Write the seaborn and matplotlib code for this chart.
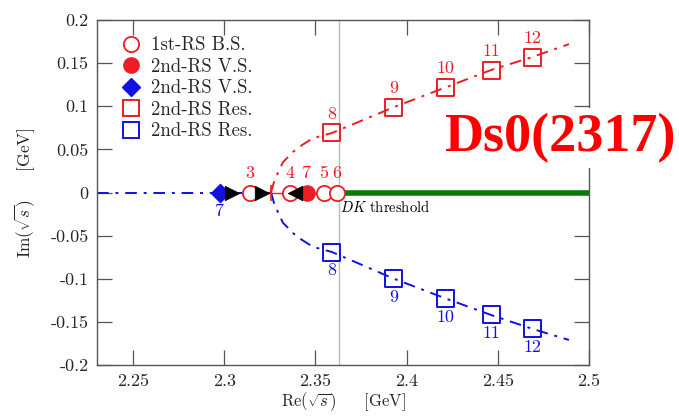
import matplotlib
matplotlib.use("Agg")
import matplotlib.pyplot as plt
from matplotlib.lines import Line2D
import seaborn as sns
import numpy as np

# ---------------- data ----------------
threshold = 2.3629
junction_x = 2.3257

# 1st-RS bound states (open red circles) with labels
bs_x = [2.3141, 2.3361, 2.3547, 2.3618]
bs_lab = ["3", "4", "5", "6"]
# 2nd-RS virtual state (filled red circle)
vs_red_x = [2.3454]
vs_red_lab = ["7"]
# 2nd-RS virtual state (blue diamond)
vs_blue_x = [2.2977]
vs_blue_lab = ["7"]
# arrows on the real axis
arrow_r_x = [2.3043, 2.3207]
arrow_l_x = [2.3388]

# 2nd-RS resonances
res_x = [2.3591, 2.3931, 2.4216, 2.4463, 2.4688]
res_up_y = [0.069, 0.099, 0.122, 0.142, 0.157]
res_dn_y = [-0.069, -0.100, -0.123, -0.142, -0.158]
res_lab = ["8", "9", "10", "11", "12"]

# trajectory curves
curve_x = [2.3257, 2.3273, 2.3289, 2.3322, 2.3377, 2.3427, 2.3487, 2.3591,
           2.3931, 2.4216, 2.4463, 2.4688, 2.4890]
curve_up_y = [0.0, 0.012, 0.020, 0.035, 0.047, 0.055, 0.063, 0.069,
              0.099, 0.122, 0.142, 0.157, 0.172]
curve_dn_y = [0.0, -0.012, -0.020, -0.035, -0.047, -0.055, -0.063, -0.069,
              -0.100, -0.123, -0.142, -0.158, -0.171]
blue_axis_x = [2.2303, 2.3257]

xticks = [2.25, 2.3, 2.35, 2.4, 2.45, 2.5]
xtick_labels = ["2.25", "2.3", "2.35", "2.4", "2.45", "2.5"]
yticks = [0.2, 0.15, 0.1, 0.05, 0.0, -0.05, -0.1, -0.15, -0.2]
ytick_labels = ["0.2", "0.15", "0.1", "0.05", "0", "-0.05", "-0.1", "-0.15", "-0.2"]

legend_labels = ["1st-RS B.S.", "2nd-RS V.S.", "2nd-RS V.S.", "2nd-RS Res.", "2nd-RS Res."]

# ---------------- style ----------------
sns.set_style("ticks")
plt.rcParams["font.family"] = ["cmr10", "DejaVu Serif"]
plt.rcParams["mathtext.fontset"] = "cm"
plt.rcParams["axes.unicode_minus"] = False

RED = "#ee1c24"
BLUE = "#1010e0"
GREEN = "#0a7a0a"
EDGE = "#555555"
dashdot = (0, (6, 3.5, 1.5, 3.5))

fig = plt.figure(figsize=(6.79, 4.2), dpi=100)
ax = fig.add_axes([97 / 679, 55 / 420, 492 / 679, 345 / 420])

# threshold line and green cut
ax.axvline(threshold, color="#bbbbbb", lw=1.0, zorder=1)
sns.lineplot(x=[threshold, 2.5], y=[0, 0], ax=ax, color=GREEN, lw=4.0,
             sort=False, estimator=None, zorder=2)

# trajectories
sns.lineplot(x=blue_axis_x, y=[0, 0], ax=ax, color=BLUE, lw=1.4,
             linestyle=dashdot, sort=False, estimator=None, zorder=2)
sns.lineplot(x=curve_x, y=curve_up_y, ax=ax, color=RED, lw=1.4,
             linestyle=dashdot, sort=False, estimator=None, zorder=2)
sns.lineplot(x=curve_x, y=curve_dn_y, ax=ax, color=BLUE, lw=1.4,
             linestyle=dashdot, sort=False, estimator=None, zorder=2)
sns.lineplot(x=[bs_x[0], bs_x[-1]], y=[0, 0], ax=ax, color=RED, lw=1.0,
             sort=False, estimator=None, zorder=2)
ax.plot([junction_x], [0], marker="|", ms=12, mew=1.2, color=RED, zorder=3)

# markers
sns.scatterplot(x=bs_x, y=[0] * len(bs_x), ax=ax, marker="o", s=120,
                facecolors="white", edgecolors=RED, linewidth=1.3, zorder=4)
sns.scatterplot(x=vs_red_x, y=[0], ax=ax, marker="o", s=120,
                color=RED, edgecolors=RED, linewidth=1.0, zorder=5)
sns.scatterplot(x=vs_blue_x, y=[0], ax=ax, marker="D", s=85,
                color=BLUE, edgecolors=BLUE, linewidth=1.0, zorder=5)
sns.scatterplot(x=arrow_r_x, y=[0] * len(arrow_r_x), ax=ax, marker=">", s=110,
                color="black", edgecolors="black", linewidth=0.5, zorder=6)
sns.scatterplot(x=arrow_l_x, y=[0], ax=ax, marker="<", s=110,
                color="black", edgecolors="black", linewidth=0.5, zorder=6)
sns.scatterplot(x=res_x, y=res_up_y, ax=ax, marker="s", s=150,
                facecolors="none", edgecolors=RED, linewidth=1.4, zorder=4)
sns.scatterplot(x=res_x, y=res_dn_y, ax=ax, marker="s", s=150,
                facecolors="none", edgecolors=BLUE, linewidth=1.4, zorder=4)

# point labels
lab_fs = 13
for x, t in zip(bs_x, bs_lab):
    ax.annotate(t, (x, 0), xytext=(0, 8), textcoords="offset points",
                ha="center", va="bottom", color=RED, fontsize=lab_fs)
for x, t in zip(vs_red_x, vs_red_lab):
    ax.annotate(t, (x, 0), xytext=(0, 8), textcoords="offset points",
                ha="center", va="bottom", color=RED, fontsize=lab_fs)
for x, t in zip(vs_blue_x, vs_blue_lab):
    ax.annotate(t, (x, 0), xytext=(0, -8), textcoords="offset points",
                ha="center", va="top", color=BLUE, fontsize=lab_fs)
for x, y, t in zip(res_x, res_up_y, res_lab):
    ax.annotate(t, (x, y), xytext=(0, 8), textcoords="offset points",
                ha="center", va="bottom", color=RED, fontsize=lab_fs)
for x, y, t in zip(res_x, res_dn_y, res_lab):
    ax.annotate(t, (x, y), xytext=(0, -8), textcoords="offset points",
                ha="center", va="top", color=BLUE, fontsize=lab_fs)

ax.text(threshold + 0.0008, -0.007, r"$DK$ threshold", ha="left", va="top",
        fontsize=10.5, color="black")

# axes
ax.set_xlim(2.2303, 2.5)
ax.set_ylim(-0.2, 0.2)
ax.set_xticks(xticks)
ax.set_xticklabels(xtick_labels)
ax.set_yticks(yticks)
ax.set_yticklabels(ytick_labels)
ax.tick_params(direction="in", length=11, width=0.9, color=EDGE,
               top=True, right=True, labelsize=13, pad=6)
for sp in ax.spines.values():
    sp.set_visible(True)
    sp.set_color(EDGE)
    sp.set_linewidth(1.0)

ax.set_xlabel(r"Re$(\sqrt{s})$     [GeV]", fontsize=12, labelpad=1)
ax.set_ylabel(r"Im$(\sqrt{s})$     [GeV]", fontsize=12.5, labelpad=10)

handles = [
    Line2D([], [], ls="none", marker="o", ms=11, mfc="white", mec=RED, mew=1.3),
    Line2D([], [], ls="none", marker="o", ms=11, mfc=RED, mec=RED),
    Line2D([], [], ls="none", marker="D", ms=9, mfc=BLUE, mec=BLUE),
    Line2D([], [], ls="none", marker="s", ms=12, mfc="none", mec=RED, mew=1.4),
    Line2D([], [], ls="none", marker="s", ms=12, mfc="none", mec=BLUE, mew=1.4),
]
ax.legend(handles, legend_labels, loc="upper left", frameon=False,
          fontsize=13.5, handlelength=1.2, handletextpad=0.45,
          labelspacing=0.19, borderaxespad=0.3, bbox_to_anchor=(0.02, 0.99))

fig.text(0.995, 1 - 138 / 420, "Ds0(2317)", ha="right", va="center",
         family="Liberation Serif", fontweight="bold", fontsize=39, color="red",
         bbox=dict(facecolor="white", edgecolor="none", pad=4))

fig.savefig("out.png", dpi=100)
